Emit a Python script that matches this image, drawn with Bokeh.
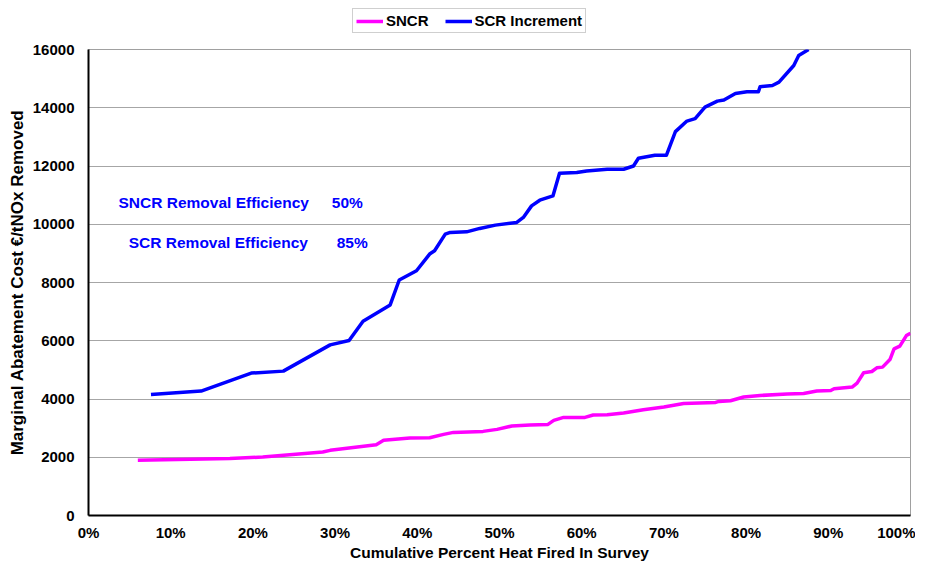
from bokeh.plotting import figure
from bokeh.layouts import column
from bokeh.models import Range1d, FixedTicker, PrintfTickFormatter, BasicTickFormatter, Legend, LegendItem, Label
from bokeh.embed import file_html
from bokeh.resources import INLINE

# ---- data ----
sncr_x = [6.0, 17.2, 21.2, 28.5, 29.4, 35.0, 35.9, 39.1, 41.5, 43.2, 44.4, 48.0, 49.7, 51.5,
          53.7, 55.9, 56.6, 57.8, 60.4, 61.4, 63.1, 65.1, 67.5, 70.0, 72.4, 76.3, 76.7, 78.1,
          79.7, 81.7, 85.0, 87.0, 88.6, 90.3, 90.7, 92.9, 93.5, 94.3, 95.3, 95.9, 96.6, 97.5,
          98.0, 98.7, 99.5, 100.0]
sncr_y = [1895, 1953, 2011, 2182, 2237, 2432, 2580, 2662, 2672, 2785, 2854, 2888, 2957, 3073,
          3107, 3128, 3265, 3368, 3368, 3450, 3460, 3518, 3632, 3724, 3847, 3882, 3916, 3940,
          4067, 4121, 4169, 4190, 4272, 4293, 4351, 4409, 4546, 4899, 4944, 5070, 5094, 5355,
          5721, 5814, 6177, 6259]

scr_x = [7.6, 13.7, 19.8, 23.7, 29.4, 31.7, 33.4, 36.7, 37.8, 39.9, 41.5, 42.1, 43.4, 44.0,
         46.0, 47.6, 49.5, 52.1, 52.9, 53.9, 54.9, 56.5, 57.3, 59.4, 60.6, 63.1, 65.1, 66.3,
         66.9, 68.9, 70.3, 71.4, 72.8, 73.8, 75.0, 76.5, 77.3, 78.7, 80.1, 81.5, 81.7, 83.2,
         84.0, 85.8, 86.4, 87.6]
scr_y = [4156, 4272, 4889, 4957, 5858, 6006, 6670, 7229, 8085, 8404, 8976, 9089, 9661, 9720,
         9740, 9857, 9970, 10062, 10233, 10631, 10826, 10973, 11751, 11775, 11830, 11888, 11888,
         12001, 12265, 12368, 12368, 13180, 13543, 13625, 14023, 14228, 14263, 14492, 14550,
         14550, 14722, 14766, 14879, 15451, 15794, 16000]

x_ticks = [0, 10, 20, 30, 40, 50, 60, 70, 80, 90, 100]
y_ticks = [0, 2000, 4000, 6000, 8000, 10000, 12000, 14000, 16000]

series_names = ["SNCR", "SCR Increment"]
series_colors = ["#FF00FF", "#0000FF"]
note_labels = ["SNCR Removal Efficiency", "SCR Removal Efficiency"]
note_values = ["50%", "85%"]
x_title = "Cumulative Percent Heat Fired In Survey"
y_title = "Marginal Abatement Cost €/tNOx Removed"

FONT = "Liberation Sans"

# ---- legend strip above the chart ----
leg = figure(width=915, height=40, output_backend="svg", toolbar_location=None,
             x_axis_type=None, y_axis_type=None, x_range=Range1d(0, 1), y_range=Range1d(0, 1),
             min_border_left=0, min_border_right=0, min_border_top=0, min_border_bottom=0)
leg.outline_line_color = None
leg.xgrid.grid_line_color = None
leg.ygrid.grid_line_color = None
# single-point lines (outside this strip's range) only provide the legend swatches
lr1 = leg.line(x=sncr_x[:1], y=sncr_y[:1], line_color=series_colors[0], line_width=3.5)
lr2 = leg.line(x=scr_x[:1], y=scr_y[:1], line_color=series_colors[1], line_width=3.5)
legend = Legend(items=[LegendItem(label=series_names[0], renderers=[lr1]),
                       LegendItem(label=series_names[1], renderers=[lr2])],
                orientation="horizontal", location=(264, 7),
                padding=3, spacing=16, margin=0,
                glyph_width=27, glyph_height=16, label_height=16, label_standoff=3,
                label_text_font=FONT, label_text_font_style="bold", label_text_font_size="15px",
                label_text_color="black",
                border_line_color="#A0A0A0", border_line_width=1,
                background_fill_color="white", background_fill_alpha=1)
leg.add_layout(legend, "center")

# ---- main chart ----
p = figure(width=915, height=523, output_backend="svg", toolbar_location=None,
           x_range=Range1d(0, 100), y_range=Range1d(0, 16000),
           min_border_left=88, min_border_right=5, min_border_top=9, min_border_bottom=0)
p.background_fill_color = "white"
p.border_fill_color = "white"
p.outline_line_color = "#A0A0A0"
p.outline_line_width = 1

p.line(sncr_x, sncr_y, line_color=series_colors[0], line_width=3.5, line_join="round")
p.line(scr_x, scr_y, line_color=series_colors[1], line_width=3.5, line_join="round")

p.xaxis.ticker = FixedTicker(ticks=x_ticks)
p.xaxis.formatter = PrintfTickFormatter(format="%d%%")
p.yaxis.ticker = FixedTicker(ticks=y_ticks)
p.yaxis.formatter = BasicTickFormatter(use_scientific=False)
for ax in (p.xaxis[0], p.yaxis[0]):
    ax.axis_line_color = "black"
    ax.axis_line_width = 2
    ax.major_tick_line_color = None
    ax.minor_tick_line_color = None
    ax.major_tick_out = 0
    ax.major_tick_in = 0
    ax.major_label_text_font = FONT
    ax.major_label_text_font_style = "bold"
    ax.major_label_text_font_size = "15px"
    ax.major_label_text_color = "black"
    ax.axis_label_text_font = FONT
    ax.axis_label_text_font_style = "bold"
    ax.axis_label_text_color = "black"
p.xaxis.major_label_standoff = 8
p.yaxis.major_label_standoff = 14
p.xaxis.axis_label = x_title
p.xaxis.axis_label_text_font_size = "15.5px"
p.xaxis.axis_label_standoff = 0
p.yaxis.axis_label = y_title
p.yaxis.axis_label_text_font_size = "17px"
p.yaxis.axis_label_standoff = 3

p.xgrid.grid_line_color = None
p.ygrid.grid_line_color = "#A6A6A6"
p.ygrid.grid_line_width = 1

note_font = "15.5px"
p.add_layout(Label(x=3.65, y=10747, text=note_labels[0], text_font=FONT, text_font_style="bold",
                   text_font_size=note_font, text_color="#0000FF", text_baseline="middle"))
p.add_layout(Label(x=29.6, y=10747, text=note_values[0], text_font=FONT, text_font_style="bold",
                   text_font_size=note_font, text_color="#0000FF", text_baseline="middle"))
p.add_layout(Label(x=4.9, y=9377, text=note_labels[1], text_font=FONT, text_font_style="bold",
                   text_font_size=note_font, text_color="#0000FF", text_baseline="middle"))
p.add_layout(Label(x=30.2, y=9377, text=note_values[1], text_font=FONT, text_font_style="bold",
                   text_font_size=note_font, text_color="#0000FF", text_baseline="middle"))

layout = column(leg, p, spacing=0)
open("out.html", "w").write(file_html(layout, INLINE))
